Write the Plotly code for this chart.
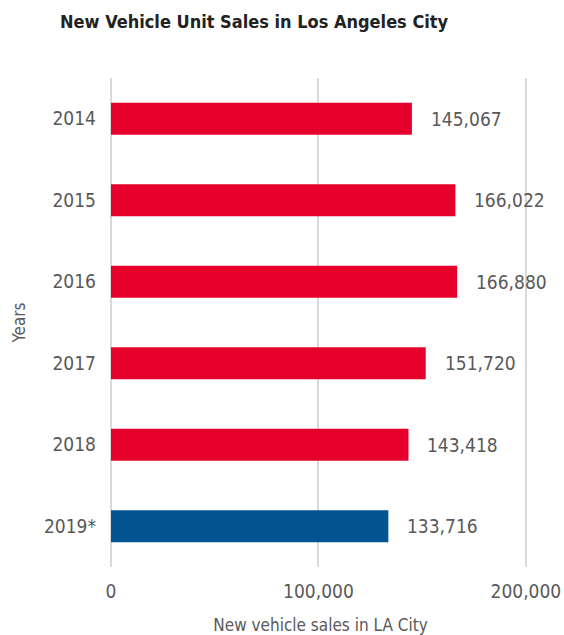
import plotly.graph_objects as go

years = ["2014", "2015", "2016", "2017", "2018", "2019*"]
sales = [145067, 166022, 166880, 151720, 143418, 133716]
bar_colors = ["#E4002B", "#E4002B", "#E4002B", "#E4002B", "#E4002B", "#035592"]
x_ticks = [0, 100000, 200000]
x_tick_text = ["0", "100,000", "200,000"]

FONT = "DejaVu Sans Condensed, Liberation Sans Narrow, Arial Narrow, sans-serif"

fig = go.Figure()
fig.add_trace(go.Bar(
    x=sales, y=years, orientation="h",
    marker=dict(color=bar_colors, line=dict(width=0)),
    width=0.39, hoverinfo="skip",
))

# value labels: y given as category index (category axes take serial numbers)
for i, v in enumerate(sales):
    fig.add_annotation(x=v, y=i, text=f"{v:,}", showarrow=False,
                       xanchor="left", xshift=17,
                       font=dict(family=FONT, size=19, color="#595959"))

fig.update_layout(
    width=564, height=635,
    margin=dict(l=111, r=34, t=78, b=68),
    paper_bgcolor="white", plot_bgcolor="white",
    showlegend=False,
    font=dict(family=FONT, size=19, color="#595959"),
    title=dict(text="<b>New Vehicle Unit Sales in Los Angeles City</b>",
               x=60/564, xanchor="left", xref="container",
               y=1 - 22/635, yanchor="middle",
               font=dict(family=FONT, size=18, color="#222222")),
    xaxis=dict(range=[0, 202000], tickvals=x_ticks, ticktext=x_tick_text,
               showgrid=True, gridcolor="#D9D9D9", gridwidth=2,
               zeroline=True, zerolinecolor="#D9D9D9", zerolinewidth=2,
               showline=False, ticks="", ticklabelstandoff=11,
               automargin=False,
               title=dict(text="New vehicle sales in LA City", standoff=18,
                          font=dict(family=FONT, size=17, color="#595959")),
               fixedrange=True),
    yaxis=dict(type="category", categoryorder="array", categoryarray=years,
               range=[len(years) - 0.5, -0.5],
               showgrid=False, showline=False, ticks="", ticklabelstandoff=14,
               automargin=False,
               title=dict(text="Years", standoff=14,
                          font=dict(family=FONT, size=17, color="#595959")),
               fixedrange=True),
)

fig.write_html("out.html")
